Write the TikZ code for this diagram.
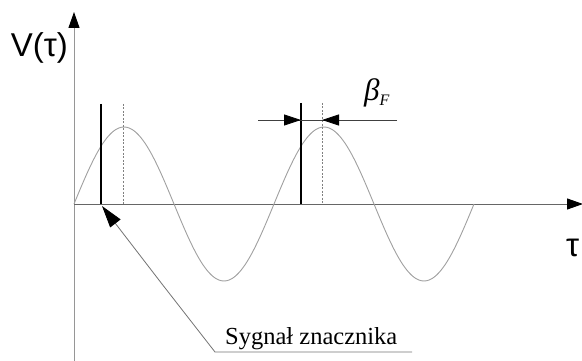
\documentclass[tikz,border=0pt]{standalone}
\usepackage{fontspec}
\setmainfont{Liberation Serif}
\setsansfont{Liberation Sans}
\usepackage{tikz}
\usepackage{xcolor}
\usetikzlibrary{arrows.meta, positioning, calc}
\definecolor{cAxis}{RGB}{150,150,150}
\definecolor{cWave}{RGB}{160,160,160}
\tikzset{
	axis/.style    ={draw=cAxis, line width=1pt, -{Triangle[length=16pt, width=11pt, color=black, fill=black]}},
	wave/.style    ={draw=cWave, line width=0.9pt},
	marker/.style  ={draw=black, line width=2pt},
	peakline/.style={draw=gray, line width=0.7pt, dash pattern=on 2pt off 1.5pt},
	dimline/.style ={draw=black!75, line width=0.8pt},
	dimtip/.style  ={-{Triangle[length=17pt, width=11pt, color=black, fill=black]}},
	leader/.style  ={draw=black!55, line width=0.8pt},
	lbl/.style     ={font=\sffamily\fontsize{33}{35}\selectfont, inner sep=0pt},
}

\begin{document}
\begin{tikzpicture}[x=1pt, y=-1pt]
	\useasboundingbox (0,0) rectangle (582,361);
	% axes
	\coordinate (o) at (74,204);
	\coordinate (ybot) at (74,361);
	\coordinate (ytip) at (74,12);
	\coordinate (xtip) at (583,204);
	\draw[axis] (ybot) -- (ytip);
	\draw[axis, draw=black!60] (o) -- (xtip);
	\node[lbl, anchor=base east] (vlab) at (68,57) {V(τ)};
	\node[lbl, anchor=base west] (tlab) at (566,256) {τ};
	% signal
	\draw[wave] plot[domain=74:474, samples=161, smooth] (\x, {204-77*sin((\x-74)*1.8)});
	% marker pulses and peaks
	\coordinate (m1top) at (101,104); \coordinate (m1) at (101,204);
	\coordinate (m2top) at (301,103); \coordinate (m2) at (301,204);
	\coordinate (p1top) at (123,104); \coordinate (p1) at (123,204);
	\coordinate (p2top) at (322,103); \coordinate (p2) at (322,204);
	\draw[peakline] (p1top) -- (p1); \draw[peakline] (p2top) -- (p2);
	\draw[marker] (m1top) -- (m1); \draw[marker] (m2top) -- (m2);
	% phase shift dimension
	\coordinate (dl) at (258,120); \coordinate (dr) at (397,120);
	\coordinate (da) at (301,120); \coordinate (db) at (322,120);
	\draw[dimline] (dl) -- (dr);
	\draw[dimline, dimtip] (dl) -- (da);
	\draw[dimline, dimtip] (dr) -- (db);
	\node[anchor=base west, inner sep=0pt, font=\fontsize{31}{33}\selectfont] (beta) at (364,101)
		{\textit{β}\raisebox{-0.3ex}{\fontsize{16}{17}\selectfont\textit{F}}};
	% label with leader
	\node[anchor=base west, inner sep=0pt, font=\fontsize{24.5}{26}\selectfont] (sig) at (225,344) {Sygnał znacznika};
	\coordinate (kink) at (215,352);
	\coordinate (uend) at (412,352);
	\draw[leader] (uend) -- (kink) -- (162,284);
	\draw[leader, -{Triangle[length=22pt, width=13pt, color=black, fill=black]}] (162,284) -- (102,206);
\end{tikzpicture}
\end{document}
